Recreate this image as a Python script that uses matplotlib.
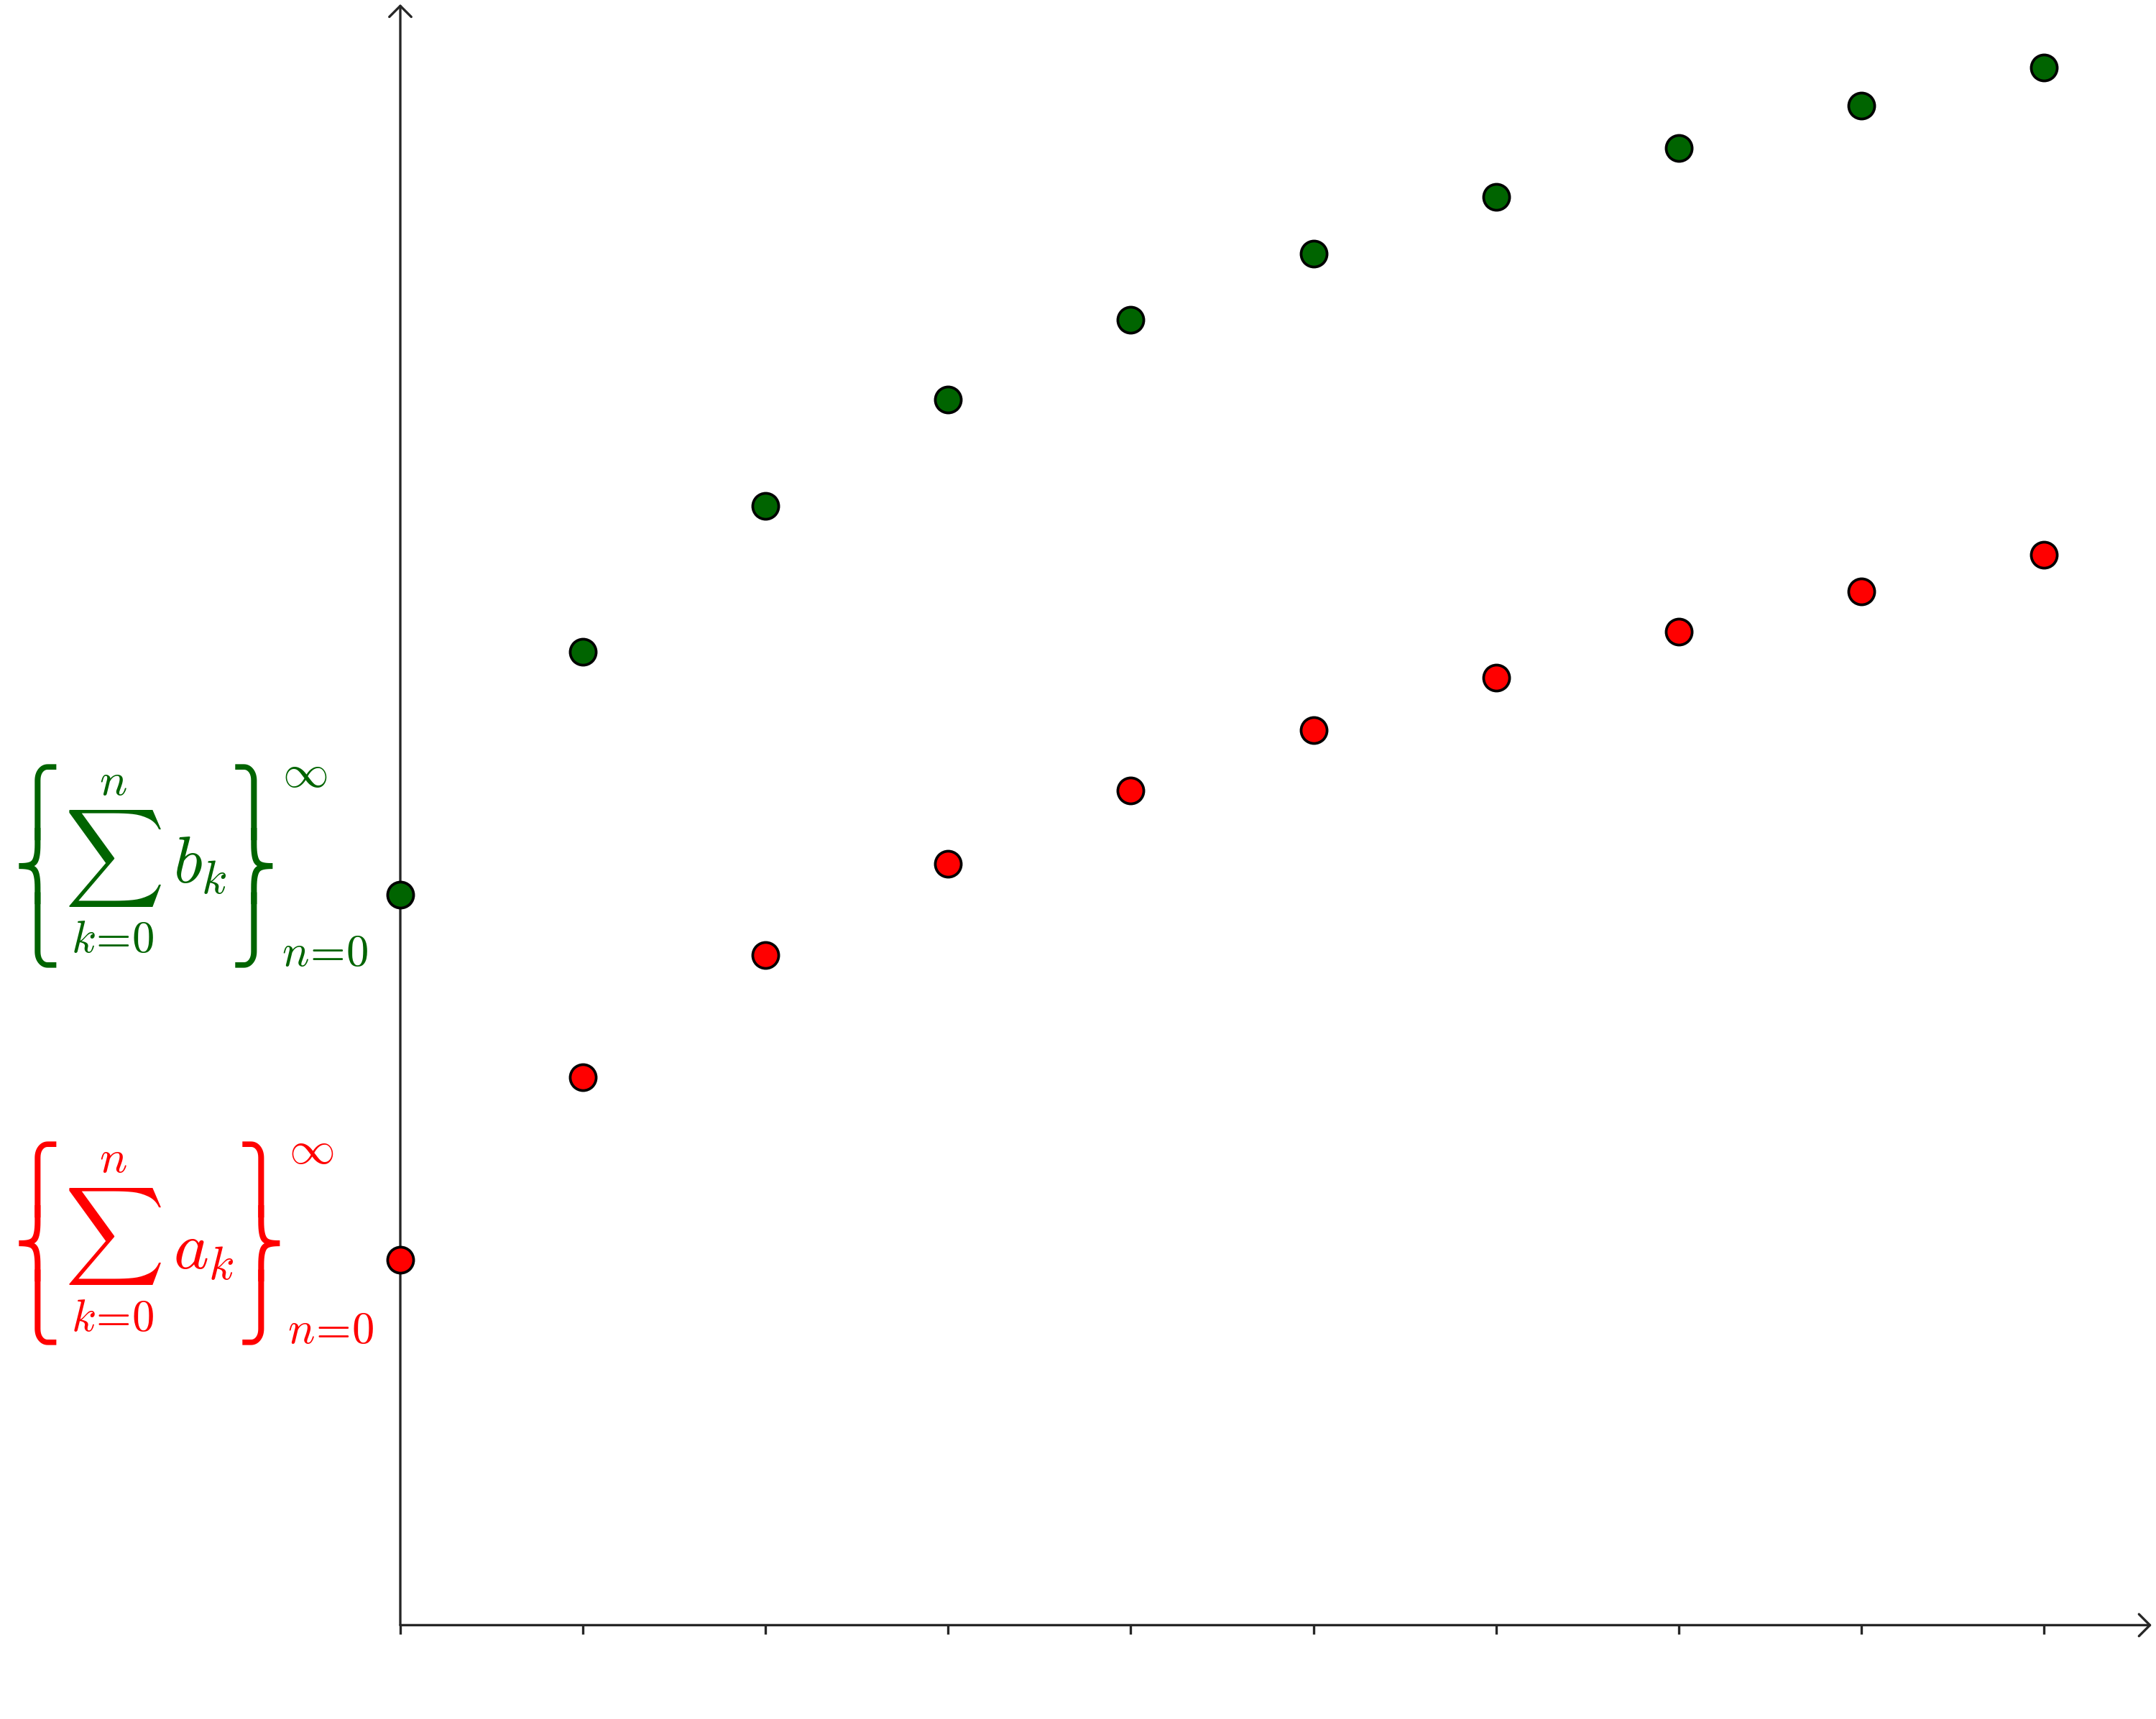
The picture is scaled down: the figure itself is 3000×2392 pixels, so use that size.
import matplotlib
matplotlib.use("Agg")
import matplotlib.pyplot as plt

# data
n_values = [0, 1, 2, 3, 4, 5, 6, 7, 8, 9]
partial_sums_b = [4.0, 5.33, 6.13, 6.71, 7.15, 7.51, 7.82, 8.09, 8.32, 8.53]
partial_sums_a = [2.0, 3.0, 3.67, 4.17, 4.57, 4.90, 5.19, 5.44, 5.66, 5.86]
tick_positions = [0, 1, 2, 3, 4, 5, 6, 7, 8, 9]

# label pieces
left_brace = "\u23a7\n\u23a8\n\u23a9"
right_brace = "\u23ab\n\u23ac\n\u23ad"
sum_sign = r"$\sum$"
upper_limit = r"$n$"
lower_limit = r"$k\!=\!0$"
term_b = r"$b_k$"
term_a = r"$a_k$"
sup_text = r"$\infty$"
sub_text = r"$n\!=\!0$"

green = "#006400"
red = "#ff0000"
axis_col = "#262626"

plt.rcParams["mathtext.fontset"] = "cm"

W, H = 3000, 2392
fig = plt.figure(figsize=(W / 100, H / 100), dpi=100)
ax = fig.add_axes([0, 0, 1, 1])
ax.set_xlim(-2.192, 9.614)
ax.set_ylim(-0.514, 8.900)
ax.axis("off")

# axes with open arrowheads
arrow = dict(arrowstyle="->,head_length=1.1,head_width=1.1",
             color=axis_col, lw=2.4, shrinkA=0, shrinkB=0)
ax.annotate("", xy=(9.59, 0), xytext=(0, 0), arrowprops=arrow)
ax.annotate("", xy=(0, 8.877), xytext=(0, 0), arrowprops=arrow)
for t in tick_positions:
    ax.plot([t, t], [0, -0.05], color=axis_col, lw=2.4, solid_capstyle="butt")

ax.plot(n_values, partial_sums_b, linestyle="none", marker="o", markersize=26,
        markerfacecolor=green, markeredgecolor="black", markeredgewidth=2.7, zorder=5)
ax.plot(n_values, partial_sums_a, linestyle="none", marker="o", markersize=26,
        markerfacecolor=red, markeredgecolor="black", markeredgewidth=2.7, zorder=5)


def put(s, x, y, color, size, **kw):
    fig.text(x / W, 1 - y / H, s, color=color, fontsize=size,
             ha="center", va="center", **kw)


def label(term, color, yb, rb_x, sum_y, n_y, k_y, term_xy, sup_xy, sub_xy):
    brace_kw = dict(linespacing=0.8, family=["STIXGeneral", "DejaVu Sans"])
    put(left_brace, 52, yb, color, 64, **brace_kw)
    put(right_brace, rb_x, yb, color, 64, **brace_kw)
    put(sum_sign, 157, sum_y, color, 69)
    put(upper_limit, 157, n_y, color, 46)
    put(lower_limit, 157, k_y, color, 45)
    put(term, term_xy[0], term_xy[1], color, 67)
    put(sup_text, sup_xy[0], sup_xy[1], color, 46)
    put(sub_text, sub_xy[0], sub_xy[1], color, 45)


label(term_b, green, 1205, 353, 1195, 1088, 1308, (278, 1203), (424, 1077), (452, 1327))
label(term_a, red, 1730, 363, 1720, 1613, 1835, (283, 1740), (433, 1601), (460, 1852))

fig.savefig("out.png", dpi=100)
